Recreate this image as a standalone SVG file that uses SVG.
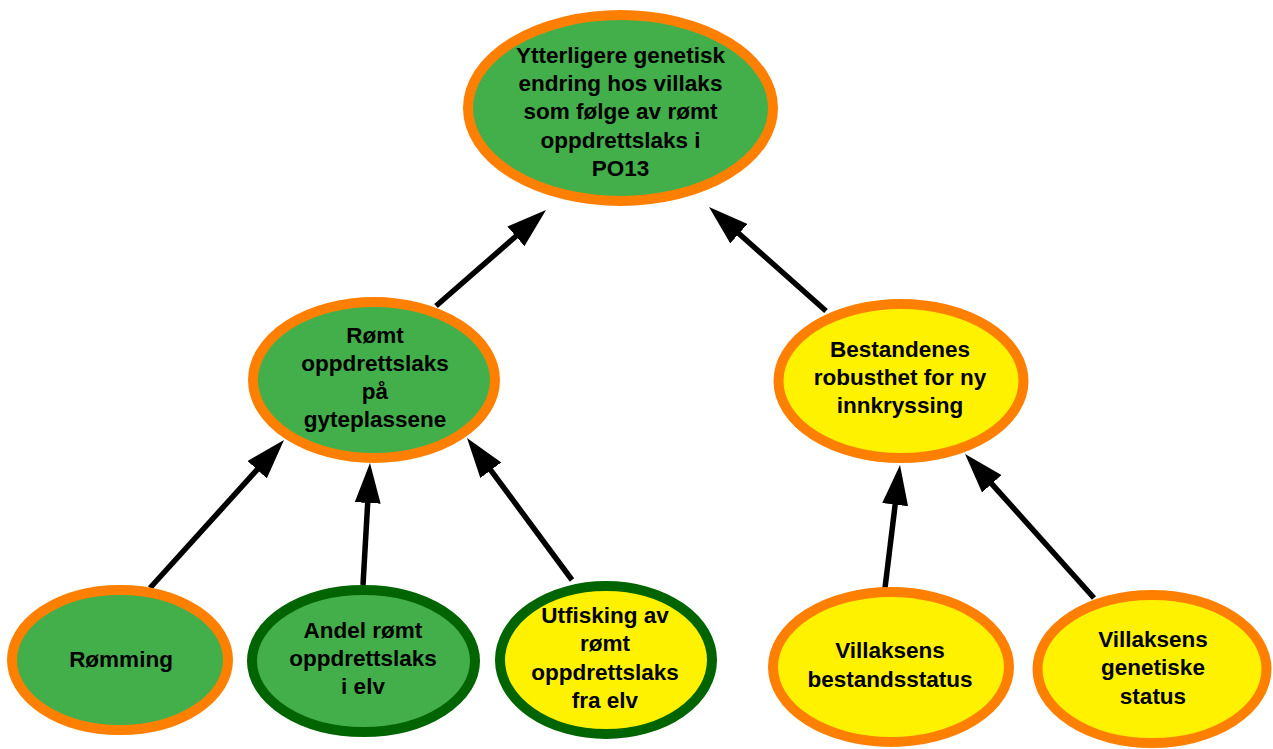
<svg xmlns="http://www.w3.org/2000/svg" width="1273" height="749" viewBox="0 0 1273 749">
<style>
.n ellipse{stroke-width:10}
.o{stroke:#FF8000}
.d{stroke:#006400}
.g{fill:#42AF4A}
.y{fill:#FFF200}
text{font-family:"Liberation Sans",Arial,sans-serif;font-weight:bold;font-size:22.5px;fill:#000;text-anchor:middle}
.e line{stroke:#000;stroke-width:5.5;marker-end:url(#ah)}
</style>
<defs>
<marker id="ah" markerUnits="userSpaceOnUse" viewBox="0 0 40 26" markerWidth="40" markerHeight="26" refX="2" refY="13" orient="auto">
<path d="M0,0 L40,13 L0,26 z" fill="#000"/>
</marker>
</defs>
<rect width="1273" height="749" fill="#fff"/>
<g id="connectors" class="e">
<line x1="436" y1="306" x2="517.4" y2="235"/>
<line x1="826" y1="311" x2="737.4" y2="232.3"/>
<line x1="150" y1="588" x2="258.5" y2="468.2"/>
<line x1="363" y1="585" x2="367.8" y2="500.9"/>
<line x1="572" y1="580" x2="489.6" y2="468.6"/>
<line x1="885" y1="588" x2="895.4" y2="502.7"/>
<line x1="1094" y1="598" x2="990.4" y2="482.3"/>
</g>
<g id="top" class="n">
<ellipse cx="620.5" cy="108" rx="152.5" ry="93" class="o g"/>
<text x="620.5" y="63"><tspan x="620.5">Ytterligere genetisk</tspan><tspan x="620.5" dy="28.2">endring hos villaks</tspan><tspan x="620.5" dy="28.2">som følge av rømt</tspan><tspan x="620.5" dy="28.2">oppdrettslaks i</tspan><tspan x="620.5" dy="28.2">PO13</tspan></text>
</g>
<g id="romt" class="n">
<ellipse cx="374" cy="380" rx="121" ry="78" class="o g"/>
<text x="375" y="343"><tspan x="375">Rømt</tspan><tspan x="375" dy="28">oppdrettslaks</tspan><tspan x="375" dy="28">på</tspan><tspan x="375" dy="28">gyteplassene</tspan></text>
</g>
<g id="bestandenes" class="n">
<ellipse cx="901" cy="381" rx="122.5" ry="77" class="o y"/>
<text x="900" y="357"><tspan x="900">Bestandenes</tspan><tspan x="900" dy="28">robusthet for ny</tspan><tspan x="900" dy="28">innkryssing</tspan></text>
</g>
<g id="romming" class="n">
<ellipse cx="120" cy="660" rx="108" ry="70" class="o g"/>
<text x="121" y="667">Rømming</text>
</g>
<g id="andel" class="n">
<ellipse cx="363.5" cy="661" rx="111.5" ry="71" class="d g"/>
<text x="363" y="638"><tspan x="363">Andel rømt</tspan><tspan x="363" dy="28">oppdrettslaks</tspan><tspan x="363" dy="28">i elv</tspan></text>
</g>
<g id="utfisking" class="n">
<ellipse cx="606" cy="660" rx="106" ry="74" class="d y"/>
<text x="605" y="623"><tspan x="605">Utfisking av</tspan><tspan x="605" dy="28.3">rømt</tspan><tspan x="605" dy="28.3">oppdrettslaks</tspan><tspan x="605" dy="28.3">fra elv</tspan></text>
</g>
<g id="bestandsstatus" class="n">
<ellipse cx="891" cy="667" rx="118" ry="75" class="o y"/>
<text x="890" y="658"><tspan x="890">Villaksens</tspan><tspan x="890" dy="28.5">bestandsstatus</tspan></text>
</g>
<g id="genetiske" class="n">
<ellipse cx="1152" cy="669" rx="114.5" ry="74" class="o y"/>
<text x="1153" y="647"><tspan x="1153">Villaksens</tspan><tspan x="1153" dy="28.3">genetiske</tspan><tspan x="1153" dy="28.3">status</tspan></text>
</g>
</svg>
